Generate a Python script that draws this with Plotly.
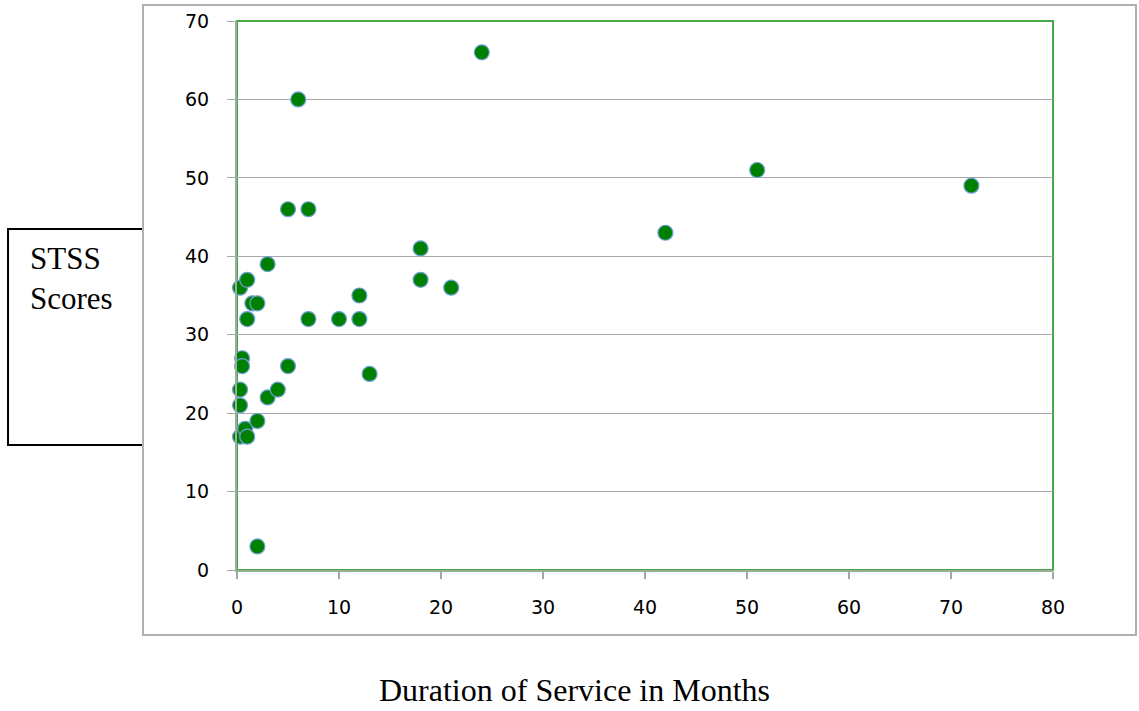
import plotly.graph_objects as go

# Duration of service (months) and STSS scores
x_months = [0.3, 1, 3, 1.5, 2, 1, 0.5, 0.5, 0.3, 0.3, 0.3, 0.8, 1, 2, 3, 4, 5, 2,
            5, 7, 6, 7, 10, 12, 12, 13, 18, 18, 21, 24, 42, 51, 72]
y_scores = [36, 37, 39, 34, 34, 32, 27, 26, 23, 21, 17, 18, 17, 19, 22, 23, 26, 3,
            46, 46, 60, 32, 32, 32, 35, 25, 41, 37, 36, 66, 43, 51, 49]

x_ticks = [0, 10, 20, 30, 40, 50, 60, 70, 80]
y_ticks = [0, 10, 20, 30, 40, 50, 60, 70]

x_title = "Duration of Service in Months"
y_title = "STSS<br>Scores"

fig = go.Figure()
fig.add_trace(go.Scatter(
    x=x_months, y=y_scores, mode="markers",
    marker=dict(size=15, color="#008000", line=dict(color="#6f9fd8", width=1.2)),
    cliponaxis=False, showlegend=False,
))

axis_col = "#9aae9a"
fig.update_layout(
    width=1139, height=711,
    margin=dict(l=237, r=86, t=21, b=141),
    paper_bgcolor="white", plot_bgcolor="white",
    font=dict(family="DejaVu Sans", size=19, color="black"),
    xaxis=dict(range=[0, 80], tickvals=x_ticks, showgrid=False, zeroline=False,
               showline=True, linecolor=axis_col, linewidth=2, automargin=False,
               ticks="outside", ticklen=7, tickcolor=axis_col, tickwidth=2,
               ticklabelstandoff=12),
    yaxis=dict(range=[0, 70], tickvals=y_ticks, showgrid=True, gridcolor="#a8a8a8",
               gridwidth=1, zeroline=False, automargin=False,
               showline=True, linecolor=axis_col, linewidth=2,
               ticks="outside", ticklen=8, tickcolor="#a8a8a8", tickwidth=1,
               ticklabelstandoff=14),
    shapes=[
        dict(type="rect", xref="paper", yref="paper", x0=0, x1=1, y0=0, y1=1,
             line=dict(color="#45a845", width=2), layer="between"),
        dict(type="rect", xref="paper", yref="paper", x0=-0.2806, x1=-0.1152,
             y0=0.2277, y1=0.6211, line=dict(color="black", width=2)),
        dict(type="rect", xref="paper", yref="paper", x0=-0.1152, x1=1.1017,
             y0=-0.1184, y1=1.0291, line=dict(color="#b0b0b0", width=2)),
    ],
    annotations=[
        dict(text=y_title, xref="paper", yref="paper", x=-0.2562, y=0.6029,
             xanchor="left", yanchor="top", align="left", showarrow=False,
             font=dict(family="Liberation Serif", size=31, color="black")),
        dict(text=x_title, xref="paper", yref="paper", x=0.4142, y=-0.2186,
             xanchor="center", yanchor="middle", showarrow=False, borderpad=0,
             font=dict(family="Liberation Serif", size=32, color="black")),
    ],
)

fig.write_html("out.html", config={"displayModeBar": False},
               post_script="document.body.style.margin='0';")
